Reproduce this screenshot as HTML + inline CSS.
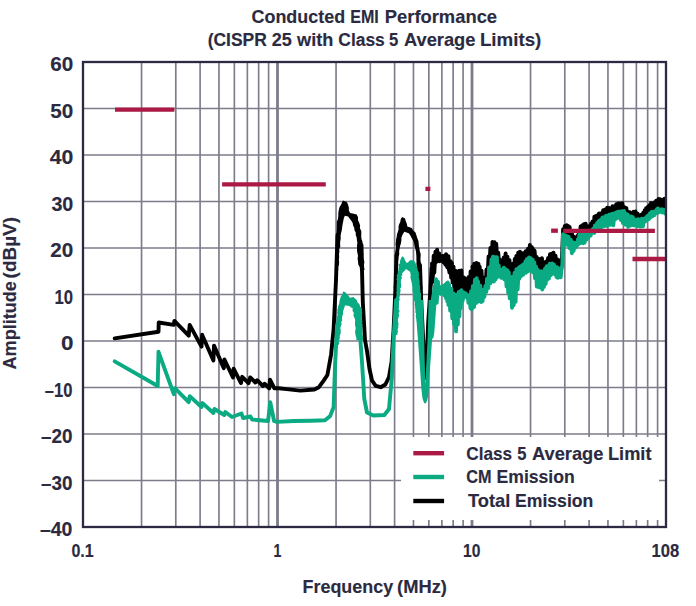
<!DOCTYPE html><html><head><meta charset="utf-8"><style>html,body{margin:0;padding:0;background:#fff;}svg{display:block;}text{font-family:"Liberation Sans",sans-serif;font-weight:bold;fill:#2b2a40;stroke:#2b2a40;stroke-width:0.15px;}</style></head><body>
<svg width="696" height="606" viewBox="0 0 696 606">
<rect x="0" y="0" width="696" height="606" fill="#fff"/>
<line x1="83" y1="108.50" x2="666" y2="108.50" stroke="#7c7c8a" stroke-width="1.65"/>
<line x1="83" y1="155.00" x2="666" y2="155.00" stroke="#7c7c8a" stroke-width="1.65"/>
<line x1="83" y1="201.50" x2="666" y2="201.50" stroke="#7c7c8a" stroke-width="1.65"/>
<line x1="83" y1="248.00" x2="666" y2="248.00" stroke="#7c7c8a" stroke-width="1.65"/>
<line x1="83" y1="294.50" x2="666" y2="294.50" stroke="#7c7c8a" stroke-width="1.65"/>
<line x1="83" y1="341.00" x2="666" y2="341.00" stroke="#7c7c8a" stroke-width="1.65"/>
<line x1="83" y1="387.50" x2="666" y2="387.50" stroke="#7c7c8a" stroke-width="1.65"/>
<line x1="83" y1="434.00" x2="666" y2="434.00" stroke="#7c7c8a" stroke-width="1.65"/>
<line x1="83" y1="480.50" x2="666" y2="480.50" stroke="#7c7c8a" stroke-width="1.65"/>
<line x1="141.55" y1="62" x2="141.55" y2="527" stroke="#7c7c8a" stroke-width="1.65"/>
<line x1="175.80" y1="62" x2="175.80" y2="527" stroke="#7c7c8a" stroke-width="1.65"/>
<line x1="200.10" y1="62" x2="200.10" y2="527" stroke="#7c7c8a" stroke-width="1.65"/>
<line x1="218.95" y1="62" x2="218.95" y2="527" stroke="#7c7c8a" stroke-width="1.65"/>
<line x1="234.35" y1="62" x2="234.35" y2="527" stroke="#7c7c8a" stroke-width="1.65"/>
<line x1="247.37" y1="62" x2="247.37" y2="527" stroke="#7c7c8a" stroke-width="1.65"/>
<line x1="258.65" y1="62" x2="258.65" y2="527" stroke="#7c7c8a" stroke-width="1.65"/>
<line x1="268.60" y1="62" x2="268.60" y2="527" stroke="#7c7c8a" stroke-width="1.65"/>
<line x1="336.05" y1="62" x2="336.05" y2="527" stroke="#7c7c8a" stroke-width="1.65"/>
<line x1="370.30" y1="62" x2="370.30" y2="527" stroke="#7c7c8a" stroke-width="1.65"/>
<line x1="394.60" y1="62" x2="394.60" y2="527" stroke="#7c7c8a" stroke-width="1.65"/>
<line x1="413.45" y1="62" x2="413.45" y2="527" stroke="#7c7c8a" stroke-width="1.65"/>
<line x1="428.85" y1="62" x2="428.85" y2="527" stroke="#7c7c8a" stroke-width="1.65"/>
<line x1="441.87" y1="62" x2="441.87" y2="527" stroke="#7c7c8a" stroke-width="1.65"/>
<line x1="453.15" y1="62" x2="453.15" y2="527" stroke="#7c7c8a" stroke-width="1.65"/>
<line x1="463.10" y1="62" x2="463.10" y2="527" stroke="#7c7c8a" stroke-width="1.65"/>
<line x1="530.55" y1="62" x2="530.55" y2="527" stroke="#7c7c8a" stroke-width="1.65"/>
<line x1="564.80" y1="62" x2="564.80" y2="527" stroke="#7c7c8a" stroke-width="1.65"/>
<line x1="589.10" y1="62" x2="589.10" y2="527" stroke="#7c7c8a" stroke-width="1.65"/>
<line x1="607.95" y1="62" x2="607.95" y2="527" stroke="#7c7c8a" stroke-width="1.65"/>
<line x1="623.35" y1="62" x2="623.35" y2="527" stroke="#7c7c8a" stroke-width="1.65"/>
<line x1="636.37" y1="62" x2="636.37" y2="527" stroke="#7c7c8a" stroke-width="1.65"/>
<line x1="647.65" y1="62" x2="647.65" y2="527" stroke="#7c7c8a" stroke-width="1.65"/>
<line x1="657.60" y1="62" x2="657.60" y2="527" stroke="#7c7c8a" stroke-width="1.65"/>
<line x1="277.50" y1="62" x2="277.50" y2="527" stroke="#7c7c8a" stroke-width="2.8"/>
<line x1="472.00" y1="62" x2="472.00" y2="527" stroke="#7c7c8a" stroke-width="2.8"/>
<defs><clipPath id="pc"><rect x="0" y="0" width="666.5" height="606"/></clipPath></defs><g clip-path="url(#pc)">
<rect x="401" y="437" width="258" height="83" fill="#fff"/>
<polyline points="114.7,338.4 158.5,331.7 158.7,322.5 173.8,324.9 174.4,320.9 188.7,335.7 189.7,324.9 201.5,346.6 202.1,334.8 213.4,360.5 214.0,345.6 223.8,368.2 224.4,359.5 233.0,377.4 233.6,368.7 241.0,383.1 242.2,376.8 248.5,383.1 250.2,377.4 255.4,382.5 257.1,380.2 262.9,386.0 264.6,383.7 269.2,388.3 270.0,379.7 274.4,388.3 279.0,388.3 286.6,389.1 300.4,390.6 314.3,389.5 318.9,387.2 323.5,380.8 327.4,375.0 331.1,354.3 333.6,329.5 336.0,280.0 337.5,235.0" fill="none" stroke="#000000" stroke-width="3.9" stroke-linejoin="round" stroke-linecap="round"/>
<polyline points="361.5,245.0 362.0,270.0 362.8,302.0 365.0,340.0 367.0,351.0 369.5,369.0 372.0,380.5 375.7,385.8 380.7,387.2 385.4,384.5 389.0,377.0 391.6,361.7 393.6,329.5 395.3,292.4 396.5,255.0" fill="none" stroke="#000000" stroke-width="3.9" stroke-linejoin="round" stroke-linecap="round"/>
<polyline points="420.0,265.0 421.2,300.0 423.9,354.3 425.3,377.9 426.3,371.4 428.2,322.1 430.4,290.0 431.6,268.0" fill="none" stroke="#000000" stroke-width="3.9" stroke-linejoin="round" stroke-linecap="round"/>
<polygon points="335.6,270.0 335.6,267.5 336.2,264.9 335.8,262.4 335.6,259.8 336.1,257.4 335.6,254.6 335.7,252.4 336.3,249.4 336.7,247.4 336.4,244.6 336.0,241.8 336.4,239.3 336.2,236.8 336.1,234.4 336.6,232.0 336.7,229.4 336.8,226.9 336.8,224.1 336.9,221.7 337.9,219.0 338.3,216.0 338.3,212.9 338.8,209.9 339.5,207.2 341.4,203.9 342.8,200.6 346.8,201.9 348.0,204.6 348.9,207.7 348.8,210.2 350.1,213.1 353.8,213.7 356.7,214.4 358.0,217.2 358.0,220.2 359.3,223.0 360.1,225.5 359.9,228.2 361.3,231.0 361.3,233.5 361.2,236.2 361.5,238.9 362.5,241.8 362.5,244.8 362.4,247.8 362.6,250.5 363.3,253.3 363.1,256.0 363.4,258.8 364.4,261.8 364.0,264.6 364.1,267.2 364.6,270.0 360.0,270.0 359.7,267.1 358.3,264.4 358.0,261.2 357.6,258.4 358.0,255.8 357.4,253.1 357.0,250.7 357.0,248.1 357.0,245.4 357.4,242.8 356.9,240.3 356.7,237.5 355.7,234.9 355.8,232.8 354.4,230.1 354.3,228.1 353.1,225.6 352.7,223.0 351.5,220.9 349.6,218.4 348.1,216.4 344.8,215.7 343.7,218.7 343.2,221.4 342.6,224.3 342.2,226.9 341.9,229.7 341.1,232.9 340.6,235.5 340.7,238.8 340.2,241.5 340.1,244.0 340.3,246.5 339.2,249.2 339.4,251.6 339.0,254.4 339.2,256.9 338.8,259.8 339.2,262.3 338.8,264.9 338.0,267.2 338.2,270.0" fill="#000000"/>
<polygon points="393.9,295.0 394.0,292.5 394.3,289.7 393.7,287.3 394.1,285.0 394.6,282.4 394.6,279.9 394.2,277.2 394.4,274.9 394.4,272.3 394.5,269.7 394.8,267.1 395.4,264.3 394.8,262.2 395.3,259.3 395.9,257.2 395.1,254.4 395.2,251.8 395.8,249.2 396.0,246.6 395.6,244.4 395.9,241.7 396.1,239.2 396.7,236.7 397.0,234.0 397.8,232.0 398.6,229.3 398.5,226.7 399.1,224.3 400.3,221.9 400.7,219.2 402.1,216.9 405.1,218.4 405.7,221.1 406.9,223.9 407.3,226.6 411.8,228.0 413.2,230.4 415.5,232.5 416.4,235.2 417.2,237.9 418.4,240.7 418.7,243.5 418.9,246.1 419.5,248.8 419.8,251.3 420.7,254.1 420.6,256.7 420.4,259.2 420.7,261.7 421.1,264.6 421.1,267.1 420.9,269.6 421.2,271.8 421.7,274.8 421.1,277.0 421.9,279.6 421.5,282.0 421.4,284.8 422.4,287.6 422.0,289.6 421.9,292.6 422.2,295.0 418.4,295.0 418.6,292.5 417.9,289.9 418.0,287.4 417.6,285.0 418.1,282.0 417.4,279.8 417.2,277.3 417.3,274.6 417.4,271.9 416.8,269.3 417.1,267.0 416.4,264.5 416.5,261.6 416.4,259.5 416.4,256.7 416.2,254.1 416.0,251.7 415.3,248.7 414.5,246.3 414.1,243.4 413.2,240.7 411.6,238.1 410.5,235.7 408.8,233.2 404.3,231.8 402.4,234.9 401.4,237.7 401.4,240.6 400.9,243.4 400.1,246.1 399.6,248.5 399.1,251.4 399.3,254.3 398.4,257.0 398.3,259.6 397.8,262.1 398.3,264.5 397.7,267.1 397.7,269.8 397.4,272.0 397.5,274.8 397.9,277.3 397.9,279.7 396.9,282.3 397.2,284.7 397.4,287.3 396.8,289.8 397.4,292.2 396.9,295.0" fill="#000000"/>
<polygon points="429.5,292.5 431.6,267.3 434.0,255.7 437.3,249.9 440.6,259.0 447.2,253.2 452.2,265.6 455.0,268.8 457.5,273.7 460.8,270.4 463.3,277.0 467.4,282.0 472.3,267.1 477.3,262.2 481.4,272.1 484.7,282.0 488.0,260.5 491.3,243.2 496.3,244.0 499.6,258.9 502.5,262.2 505.8,253.9 509.1,260.5 511.6,267.1 515.7,257.2 519.8,252.3 524.8,253.9 529.7,246.5 533.8,250.6 537.1,258.9 542.5,259.4 545.0,265.1 549.1,255.2 554.0,253.6 556.5,258.5 561.0,265.1 562.2,236.5 563.4,227.5 564.7,226.5 568.8,225.6 571.3,230.5 574.6,240.4 577.9,235.5 581.2,225.6 584.5,223.9 587.8,227.2 591.1,223.9 594.4,218.2 600.6,213.7 604.1,209.6 608.7,209.6 613.3,207.3 618.0,203.9 622.6,205.0 626.6,210.2 630.7,213.7 635.3,211.4 638.7,216.0 643.4,213.1 648.0,206.8 653.8,202.7 659.5,199.8 666.0,200.0 666.0,211.5 659.5,211.1 654.9,212.9 650.3,215.2 644.5,219.8 641.0,222.1 635.9,221.5 631.8,219.2 627.2,216.3 622.6,212.9 616.8,214.0 612.2,216.9 606.4,217.5 600.6,222.1 592.7,231.2 589.5,233.7 586.2,239.4 582.9,234.5 579.6,237.0 576.3,246.9 573.0,245.2 569.7,238.6 566.4,237.0 562.6,237.5 561.6,273.2 556.5,269.9 553.2,265.0 549.1,265.8 545.0,271.6 539.6,275.2 535.5,267.0 533.0,262.0 528.9,258.7 524.8,264.5 520.6,267.8 516.5,271.9 511.6,281.8 508.3,274.4 504.1,270.3 500.4,273.6 497.1,259.5 493.0,257.9 489.7,267.0 483.9,295.0 479.8,286.8 475.6,278.5 469.9,298.3 464.9,295.0 460.8,293.4 454.7,292.8 451.4,279.6 446.4,268.1 441.5,261.5 436.5,263.1 431.6,289.5" fill="#000000"/>
<polyline points="432.0,263.5 432.6,282.0 433.7,255.8 434.3,272.7 435.4,251.8 436.4,262.0 437.1,249.7 437.9,260.6 439.2,253.5 439.7,261.3 440.6,257.5 441.4,259.4 442.6,255.9 443.3,262.3 444.2,256.2 445.4,264.6 446.0,254.3 447.3,267.3 448.4,256.2 449.4,272.5 450.5,261.2 451.2,277.6 451.9,263.0 452.6,282.4 453.5,266.7 454.6,291.7 455.9,270.9 457.0,290.8 457.6,273.2 458.6,291.8 459.2,270.6 460.4,291.8 461.4,270.4 462.2,293.1 463.3,277.3 463.9,292.7 465.0,278.3 466.2,294.2 466.8,279.6 468.0,294.4 468.7,276.9 469.8,297.2 470.6,271.4 471.8,289.6 472.6,266.4 473.6,282.7 474.2,263.7 475.2,278.4 476.5,262.9 477.2,280.5 478.5,263.9 479.0,283.1 479.7,266.7 480.3,285.2 481.5,270.6 482.5,289.7 483.1,277.4 483.9,292.5 484.8,281.3 485.7,285.4 486.5,269.5 487.6,275.4 488.6,256.4 489.3,266.5 490.4,248.0 491.6,260.4 492.5,241.9 493.7,255.5 494.5,242.2 495.4,256.6 496.2,243.8 497.1,257.2 498.2,252.6 499.4,266.3 500.4,260.0 501.1,270.5 502.2,260.8 503.0,270.2 503.8,257.4 504.5,268.6 505.6,253.4 506.7,270.0 507.4,256.7 508.3,272.6 509.5,260.3 510.2,275.7 511.1,264.5 511.9,278.2 512.5,264.0 513.6,275.6 514.8,259.0 515.6,272.6 516.3,256.0 517.4,269.2 518.2,252.6 519.2,266.7 520.0,251.8 521.2,265.9 522.1,253.2 522.9,264.0 523.9,253.0 524.6,262.7 525.7,251.2 526.8,258.9 528.0,248.8 528.8,258.2 529.9,245.0 530.6,258.3 531.9,247.1 532.4,259.3 533.0,248.9 533.9,262.0 534.6,250.8 535.7,265.5 536.6,256.9 537.6,270.4 538.8,258.9 539.5,272.5 540.2,259.3 540.7,272.8 541.9,258.2 542.7,271.1 544.0,262.5 545.1,268.6 546.2,261.4 547.0,267.7 548.1,257.9 549.1,264.9 550.0,254.3 551.1,263.5 551.7,253.8 552.9,264.1 553.5,252.8 554.2,264.4 555.5,255.6 556.2,267.2 557.1,259.1 557.9,268.3 558.6,260.3 559.8,269.5 560.9,263.3 562.0,257.8 563.1,229.1 563.7,234.6 564.8,225.9 565.7,235.0 566.7,225.3 567.3,235.9 568.1,225.9 569.0,237.1 569.6,227.0 570.6,239.4 571.8,231.3 572.7,243.5 573.5,236.4 574.6,244.4 575.5,239.2 576.8,243.2 577.3,235.9 578.0,241.1 578.9,232.0 580.0,235.7 580.6,226.5 581.3,233.8 582.0,225.4 582.7,232.6 583.9,224.2 584.7,235.4 585.7,223.7 586.4,238.1 587.0,226.2 588.1,234.5 588.9,226.2 590.0,230.5 591.2,223.4 591.9,229.2 592.5,221.4 593.7,227.9 594.4,216.6 595.2,226.1 595.8,216.0 596.9,223.6 597.7,215.1 598.4,221.8 599.0,213.4 600.2,221.6 601.3,213.1 602.0,218.6 603.2,210.2 604.4,216.9 605.3,209.4 606.4,214.9 607.2,207.8 608.1,216.5 609.1,207.9 610.1,215.7 610.7,208.8 611.7,215.1 612.5,206.2 613.4,214.0 614.1,206.4 615.1,214.3 616.3,204.3 617.4,211.8 618.3,203.4 619.5,210.6 620.4,203.4 621.5,212.3 622.4,203.3 623.3,211.9 624.4,207.2 625.2,213.2 626.3,208.1 627.1,214.8 628.3,212.0 629.0,216.7 629.8,212.1 630.4,216.8 631.3,213.1 632.5,216.9 633.5,211.8 634.2,217.7 635.5,211.4 636.4,218.8 637.6,213.6 638.5,220.1 639.4,215.9 640.2,220.6 641.3,214.7 642.0,219.3 643.2,212.8 644.0,219.2 644.7,210.1 645.3,217.8 646.1,208.2 647.0,215.5 648.0,206.7 648.9,215.4 649.4,205.2 650.1,212.7 651.0,203.0 651.6,211.9 652.4,203.7 653.2,211.1 654.3,202.5 655.5,209.8 656.2,200.6 657.4,210.2 658.6,198.9 659.5,209.7 660.2,199.2 661.3,210.1 662.4,199.9 663.6,209.8 664.4,198.6 664.9,210.6 665.9,199.5" fill="none" stroke="#000000" stroke-width="3.9" stroke-linejoin="round" stroke-linecap="round"/>
<polyline points="114.7,361.4 157.7,386.0 158.5,351.8 173.8,394.2 174.8,388.2 188.7,402.1 189.7,396.1 201.5,407.0 202.5,403.1 213.4,413.0 214.4,409.0 224.3,415.0 225.3,412.0 232.0,417.0 241.5,413.5 243.0,418.0 250.5,416.5 252.0,419.5 259.5,420.2 268.1,421.0 270.2,402.1 274.1,421.0 276.7,421.9 294.0,421.0 311.2,420.7 325.0,420.2 330.2,415.9 333.6,407.2 335.1,364.7 337.1,325.0" fill="none" stroke="#0aaa82" stroke-width="3.9" stroke-linejoin="round" stroke-linecap="round"/>
<polygon points="334.8,345.0 334.6,343.6 335.2,342.1 334.8,340.2 334.8,338.7 335.6,337.1 335.5,335.6 335.3,334.2 336.1,332.8 335.2,331.0 335.5,329.8 336.4,328.3 336.5,326.7 336.8,325.2 336.0,323.7 336.4,322.1 336.6,320.3 336.5,318.8 336.5,317.1 337.3,316.0 337.6,314.4 337.1,312.7 337.5,311.4 337.3,309.8 338.0,308.0 338.1,306.8 338.4,305.2 339.2,303.7 339.4,302.3 339.5,300.7 340.1,299.0 340.5,297.5 340.9,296.2 342.4,294.4 342.7,293.2 342.9,291.4 345.2,291.9 345.8,293.1 347.9,295.0 348.8,296.0 349.8,297.7 351.4,297.6 353.3,297.1 355.6,298.9 357.1,300.5 357.2,302.0 358.4,303.3 359.6,304.6 360.0,306.4 361.3,307.9 362.0,309.3 361.7,310.9 362.2,312.4 362.0,314.0 362.0,315.3 361.9,317.1 361.9,318.3 361.9,320.1 362.5,321.6 361.9,323.1 362.4,324.4 362.0,326.5 362.2,327.6 362.4,329.3 362.3,330.8 362.7,332.5 362.3,333.8 362.9,335.7 363.0,336.9 363.2,338.3 363.1,340.0 360.8,340.0 360.1,340.1 357.6,340.1 356.2,340.0 356.5,338.4 356.1,336.9 355.6,335.4 355.4,333.9 355.1,332.4 355.1,331.2 355.6,329.2 355.7,327.8 355.3,326.5 355.0,324.9 355.0,323.3 355.0,322.0 355.2,320.2 354.9,318.7 354.0,317.3 353.4,315.6 353.6,314.2 353.9,313.0 352.7,311.2 352.5,309.8 352.7,308.1 351.0,307.6 349.7,306.3 348.1,305.8 345.8,305.6 344.6,305.8 344.7,307.1 343.9,308.7 343.4,310.4 342.9,311.9 343.2,313.5 342.7,315.0 342.3,316.2 342.0,317.8 342.1,319.5 342.2,320.6 341.1,322.4 341.7,323.9 340.9,325.7 340.7,326.7 340.2,328.3 340.8,329.8 340.6,331.8 340.8,333.3 340.0,334.7 339.7,336.5 339.9,338.3 339.0,340.0 338.5,341.5 339.3,343.3 338.5,345.0" fill="#0aaa82"/>
<polyline points="359.6,330.0 362.0,362.0 364.3,399.0 367.0,412.5 373.3,415.5 384.4,415.0 389.0,409.0 391.8,378.0 393.9,333.0 396.1,300.0" fill="none" stroke="#0aaa82" stroke-width="3.9" stroke-linejoin="round" stroke-linecap="round"/>
<polygon points="393.5,335.0 393.1,333.6 393.9,332.1 393.6,330.2 394.3,328.9 393.9,327.3 394.1,325.8 393.9,323.9 394.9,322.4 394.3,321.2 394.8,319.2 394.9,317.9 394.5,316.4 394.6,314.6 394.7,313.0 395.8,311.6 396.0,310.0 395.6,308.7 395.9,306.7 395.9,305.5 395.5,303.6 396.4,302.3 396.1,300.7 395.8,299.2 395.9,297.8 396.3,295.9 396.7,294.4 396.1,292.8 396.7,291.4 396.5,289.8 396.5,288.7 396.6,287.0 396.6,285.5 396.8,283.8 396.7,282.3 397.2,281.2 396.3,279.2 397.1,278.0 396.9,276.4 396.6,275.0 398.0,273.4 397.6,272.0 398.6,270.3 398.2,268.8 398.9,267.4 398.7,265.9 398.7,264.4 400.2,263.0 399.9,261.5 400.4,260.0 401.2,257.9 402.1,256.3 404.3,257.8 404.5,259.3 405.5,261.1 406.6,263.0 408.5,261.9 409.2,261.1 411.0,260.0 413.4,260.6 414.7,261.5 415.6,262.9 416.0,264.5 417.0,266.1 417.1,267.6 417.7,268.9 417.8,270.4 418.8,272.1 418.8,273.5 419.2,275.2 418.7,277.0 419.2,278.2 419.3,279.6 419.8,281.4 419.6,283.1 419.6,284.4 420.1,286.1 420.1,287.8 420.1,289.1 420.4,290.5 420.3,292.1 421.0,293.6 421.1,295.2 421.2,297.0 420.9,298.7 421.4,300.1 420.8,301.5 421.2,303.1 422.1,304.9 421.2,306.4 421.8,307.8 422.4,309.3 421.5,311.0 421.9,312.6 422.5,314.0 422.7,315.1 422.6,316.7 421.9,318.3 422.5,319.6 422.4,321.6 422.5,322.9 422.3,324.7 422.4,326.0 422.9,327.1 423.4,328.8 423.5,330.7 423.4,332.2 422.9,333.5 423.1,335.0 421.4,335.3 419.5,334.8 418.5,335.0 418.9,333.7 418.4,332.3 418.0,330.7 417.7,329.2 417.1,327.4 417.5,326.1 417.1,324.5 417.6,322.9 416.5,321.1 417.1,319.9 416.3,318.4 415.8,316.7 415.8,315.2 416.4,313.7 415.3,312.6 415.6,310.5 415.6,309.4 415.2,307.8 415.2,306.4 414.7,304.6 414.9,303.3 414.6,301.5 414.0,300.3 413.8,298.7 413.7,297.3 413.4,295.6 413.7,294.0 412.7,292.7 412.5,291.3 412.4,289.8 412.5,288.0 412.3,286.2 412.1,284.9 411.8,283.3 411.5,281.8 411.0,280.1 410.6,278.3 410.4,276.5 410.8,275.4 410.3,273.5 410.3,271.9 408.8,271.0 407.1,269.8 405.8,268.9 405.0,270.4 403.2,272.1 402.1,273.4 402.5,274.9 401.2,276.4 402.1,277.8 401.1,279.7 400.9,281.3 400.8,282.6 401.1,284.0 401.2,285.7 401.0,287.4 400.0,289.0 400.8,290.2 400.3,291.7 400.1,293.6 399.9,295.0 399.7,296.6 399.3,298.3 399.8,299.8 399.0,301.3 398.9,302.7 399.0,304.5 398.8,305.8 399.1,307.2 398.5,308.9 399.5,310.3 399.4,311.8 398.5,313.4 399.3,315.2 398.8,316.3 398.5,317.8 397.9,319.5 398.0,320.9 398.3,322.9 398.7,324.5 398.0,325.6 398.5,327.3 397.7,329.0 397.8,330.7 397.9,332.2 397.2,333.7 397.5,335.0" fill="#0aaa82"/>
<polygon points="415.0,300.0 417.7,336.4 420.3,372.7 421.3,388.0 422.5,398.5 424.0,402.8 425.0,403.6 426.2,402.8 427.7,398.5 428.9,388.0 429.7,372.7 432.3,336.4 435.0,309.0 436.8,300.0 428.6,300.0 427.7,336.4 425.9,372.7 425.5,385.0 425.0,372.7 424.1,336.4 423.2,300.0" fill="#0aaa82"/>
<polygon points="428.8,342.5 430.3,303.7 433.0,285.2 435.6,280.6 438.3,282.6 439.6,287.8 443.5,287.8 446.2,282.6 450.5,287.1 454.7,297.0 460.8,291.9 464.9,293.5 469.9,296.8 475.6,277.0 479.8,285.3 483.9,293.5 489.7,265.5 493.0,256.4 497.1,258.0 500.4,272.1 504.1,268.8 508.3,272.9 511.6,280.3 516.5,270.4 520.6,266.3 524.8,263.0 528.9,257.2 533.0,260.5 535.5,265.5 539.6,273.7 545.0,270.1 549.1,264.3 553.2,263.5 556.5,268.4 561.6,271.7 562.6,236.0 566.4,235.5 569.7,237.1 573.0,243.7 576.3,245.4 579.6,235.5 582.9,233.0 586.2,237.9 589.5,232.2 592.7,229.7 600.6,220.6 606.4,216.0 612.2,215.4 616.8,212.5 622.6,211.4 627.2,214.8 631.8,217.7 635.9,220.0 641.0,220.6 644.5,218.3 650.3,213.7 654.9,211.4 659.5,209.6 666.0,210.0 666.0,212.2 660.7,211.0 656.1,213.3 651.4,216.8 646.8,219.1 642.2,226.0 637.6,226.0 633.0,223.7 629.5,225.4 624.9,224.9 621.4,219.1 618.0,217.4 614.5,219.1 613.3,223.7 606.4,224.9 600.6,226.0 596.0,230.5 591.1,233.8 587.0,238.7 583.7,242.0 579.6,243.7 575.4,246.9 572.1,253.5 568.8,243.7 564.7,245.3 563.2,246.0 561.8,276.6 556.5,276.6 553.2,272.5 549.9,276.6 546.6,279.9 543.3,288.2 540.4,286.9 536.3,285.2 533.8,272.0 529.7,268.7 524.8,272.0 519.0,278.6 516.5,298.4 512.4,307.5 508.3,293.5 505.0,278.6 500.0,275.3 495.4,278.6 491.3,281.9 486.4,291.8 482.2,300.1 476.5,301.7 471.5,310.0 467.4,298.4 464.1,293.5 462.0,302.5 459.9,312.7 456.3,331.7 453.6,321.8 448.1,303.6 443.5,292.1 438.3,292.1 436.3,305.3 434.3,332.5 433.5,337.5" fill="#0aaa82"/>
<polyline points="436.0,279.2 436.7,302.9 437.9,281.6 438.9,291.9 439.8,287.9 440.8,293.8 441.9,286.8 442.5,293.4 443.1,286.0 444.2,295.3 445.3,284.6 446.0,298.1 446.6,283.4 447.3,301.4 447.8,282.5 448.4,304.9 449.0,284.4 450.2,310.6 451.4,289.0 452.3,318.4 453.4,293.5 454.1,324.0 454.8,296.0 456.1,331.4 456.7,294.6 457.8,324.4 458.8,291.9 459.4,316.3 460.0,291.4 460.8,308.2 461.4,290.3 462.6,301.0 463.8,292.4 465.1,296.5 466.0,293.6 467.0,297.8 467.8,295.2 468.4,302.9 469.4,296.0 470.5,308.2 471.1,291.3 471.7,309.3 472.9,285.9 474.1,307.0 474.9,279.8 476.1,303.0 476.7,278.1 477.4,301.9 478.0,281.4 479.2,301.0 480.3,285.8 481.2,302.0 482.0,289.7 482.6,301.1 483.2,290.3 484.4,296.9 485.4,286.0 486.3,291.9 487.0,278.8 488.3,288.1 489.1,267.5 490.3,283.4 491.5,259.4 492.4,280.9 493.0,256.6 493.9,281.6 495.1,257.1 495.6,279.3 496.9,257.2 497.5,277.1 498.7,265.4 499.5,276.0 500.5,271.3 501.2,277.9 502.2,269.5 502.7,277.8 503.8,267.6 504.4,279.4 505.6,269.3 506.5,286.4 507.4,270.5 508.2,292.8 508.8,272.4 509.7,298.2 510.8,277.4 512.0,307.7 512.8,276.4 513.7,305.2 514.6,272.6 515.6,301.8 516.4,269.3 517.6,289.6 518.9,267.7 519.4,278.7 520.1,266.8 520.9,276.2 522.2,265.1 523.1,274.8 523.7,264.3 524.5,273.1 525.4,261.4 525.9,272.8 526.8,259.2 528.0,271.4 529.0,257.5 529.8,268.6 530.6,258.1 531.7,271.6 532.7,259.8 533.7,272.8 534.3,262.5 535.0,278.2 536.0,266.6 536.8,286.5 537.7,269.7 538.9,287.4 539.5,273.1 540.3,287.4 541.3,271.1 542.3,289.5 542.9,271.6 544.0,287.0 545.1,268.4 545.7,284.0 546.7,266.2 547.3,279.7 548.3,265.9 548.9,278.6 549.8,263.6 551.0,275.0 552.2,263.5 552.9,272.7 554.0,264.7 554.8,274.3 555.7,266.9 556.5,277.1 557.1,267.3 557.8,277.9 558.4,268.3 559.3,276.6 560.0,270.5 560.7,277.4 561.3,270.9 562.4,264.7 563.0,234.2 563.8,246.2 564.4,234.9 565.3,244.8 566.3,235.9 567.4,244.8 568.5,236.8 569.7,248.2 570.8,239.7 571.9,253.2 572.5,242.1 573.6,250.7 574.4,242.8 575.0,247.9 576.1,243.6 576.8,246.3 578.0,239.0 578.6,244.1 579.4,234.4 580.4,243.1 581.1,232.7 581.8,242.5 582.4,231.9 583.2,243.2 584.0,233.2 584.5,242.7 585.7,237.4 586.7,239.5 587.5,234.3 588.4,237.6 589.6,230.8 590.6,235.6 591.6,230.1 592.2,233.0 593.1,228.8 594.3,233.0 595.0,225.5 596.1,229.9 597.3,222.7 598.3,229.7 598.9,220.9 599.9,227.9 600.4,220.0 601.6,227.2 602.4,217.4 603.4,226.3 604.2,217.3 605.2,225.8 606.1,215.7 607.2,226.1 607.8,215.8 608.5,225.1 609.2,214.6 610.0,224.9 610.6,214.4 611.5,224.5 612.4,213.6 613.3,225.2 614.4,213.4 615.5,219.0 616.2,212.4 616.9,218.1 618.0,211.6 618.7,217.8 619.7,211.6 620.9,220.1 621.7,211.3 622.9,223.1 624.0,211.0 624.8,224.6 625.9,213.6 626.8,225.1 627.7,214.8 628.2,226.9 629.3,216.3 630.5,225.6 631.3,216.4 632.2,225.1 632.9,217.1 633.8,225.4 634.4,219.4 635.4,225.6 636.3,220.1 637.1,226.1 637.8,219.1 638.3,226.1 639.3,219.4 640.5,226.6 641.7,218.8 642.9,226.4 644.1,218.6 645.0,221.7 646.2,217.3 647.0,220.3 648.0,215.4 649.2,218.9 649.9,213.2 650.8,217.2 651.8,211.8 652.5,216.4 653.5,211.7 654.3,215.2 655.3,211.3 655.9,213.4 656.8,209.3 657.5,212.9 658.1,208.4 658.9,212.4 659.9,209.9 661.1,211.7 661.9,209.3 662.7,212.4 664.0,209.8 665.2,213.4" fill="none" stroke="#0aaa82" stroke-width="3.9" stroke-linejoin="round" stroke-linecap="round"/>
</g>
<line x1="115.0" y1="109.6" x2="174.4" y2="109.6" stroke="#ab1a45" stroke-width="4.3"/>
<line x1="222.1" y1="184.4" x2="325.8" y2="184.4" stroke="#ab1a45" stroke-width="4.3"/>
<line x1="425.4" y1="188.9" x2="430.4" y2="188.9" stroke="#ab1a45" stroke-width="4.3"/>
<line x1="551.1" y1="230.7" x2="557.9" y2="230.7" stroke="#ab1a45" stroke-width="4.3"/>
<line x1="563.2" y1="230.9" x2="654.9" y2="230.9" stroke="#ab1a45" stroke-width="4.3"/>
<line x1="632.5" y1="259.0" x2="666.0" y2="259.0" stroke="#ab1a45" stroke-width="4.3"/>
<rect x="83" y="62" width="583" height="465" fill="none" stroke="#2c2943" stroke-width="2.3"/>
<line x1="413.3" y1="453.2" x2="444.1" y2="453.2" stroke="#ab1a45" stroke-width="4.4"/>
<line x1="413.3" y1="477.0" x2="444.1" y2="477.0" stroke="#0aaa82" stroke-width="4.4"/>
<line x1="413.3" y1="501.0" x2="444.1" y2="501.0" stroke="#000000" stroke-width="4.4"/>
<text x="489.14" y="459.80" font-size="18.00" transform="scale(0.9532,1)">Class</text>
<text x="562.17" y="459.80" font-size="18.00" transform="scale(0.9200,1)">5</text>
<text x="524.51" y="459.80" font-size="18.00" transform="scale(1.0143,1)">Average</text>
<text x="600.84" y="459.80" font-size="18.00" transform="scale(1.0119,1)">Limit</text>
<text x="515.90" y="483.40" font-size="18.00" transform="scale(0.9038,1)">CM</text>
<text x="508.35" y="483.40" font-size="18.00" transform="scale(0.9769,1)">Emission</text>
<text x="460.14" y="506.90" font-size="18.00" transform="scale(1.0171,1)">Total</text>
<text x="525.81" y="506.90" font-size="18.00" transform="scale(0.9795,1)">Emission</text>
<text x="256.71" y="23.20" font-size="18.30" transform="scale(0.9798,1)">Conducted</text>
<text x="399.15" y="23.20" font-size="18.30" transform="scale(0.8774,1)">EMI</text>
<text x="383.05" y="23.20" font-size="18.30" transform="scale(1.0045,1)">Performance</text>
<text x="217.64" y="45.80" font-size="18.30" transform="scale(0.9541,1)">(CISPR</text>
<text x="275.94" y="45.80" font-size="18.30" transform="scale(0.9850,1)">25</text>
<text x="299.60" y="45.80" font-size="18.30" transform="scale(0.9917,1)">with</text>
<text x="355.76" y="45.80" font-size="18.30" transform="scale(0.9511,1)">Class</text>
<text x="427.36" y="45.80" font-size="18.30" transform="scale(0.9100,1)">5</text>
<text x="404.57" y="45.80" font-size="18.30" transform="scale(0.9986,1)">Average</text>
<text x="467.78" y="45.80" font-size="18.30" transform="scale(1.0259,1)">Limits)</text>
<text x="48.66" y="71.40" font-size="20.00" transform="scale(1.0350,1)">60</text>
<text x="48.66" y="117.90" font-size="20.00" transform="scale(1.0350,1)">50</text>
<text x="46.90" y="164.40" font-size="20.00" transform="scale(1.0619,1)">40</text>
<text x="52.14" y="210.90" font-size="20.00" transform="scale(0.9857,1)">30</text>
<text x="48.66" y="257.40" font-size="20.00" transform="scale(1.0350,1)">20</text>
<text x="65.35" y="303.90" font-size="20.00" transform="scale(0.8350,1)">10</text>
<text x="54.25" y="350.40" font-size="20.00" transform="scale(1.1222,1)">0</text>
<text x="54.06" y="396.90" font-size="20.00" transform="scale(0.8281,1)">–10</text>
<text x="43.40" y="443.40" font-size="20.00" transform="scale(0.9437,1)">–20</text>
<text x="43.40" y="489.90" font-size="20.00" transform="scale(0.9437,1)">–30</text>
<text x="40.95" y="536.40" font-size="20.00" transform="scale(0.9750,1)">–40</text>
<text x="83.86" y="556.80" font-size="18.80" transform="scale(0.8520,1)">0.1</text>
<text x="364.70" y="556.80" font-size="18.80" transform="scale(0.7500,1)">1</text>
<text x="556.85" y="556.80" font-size="18.80" transform="scale(0.8316,1)">10</text>
<text x="737.68" y="556.80" font-size="18.80" transform="scale(0.8833,1)">108</text>
<text x="310.63" y="593.30" font-size="18.40" transform="scale(0.9739,1)">Frequency</text>
<text x="398.73" y="593.30" font-size="18.40" transform="scale(0.9959,1)">(MHz)</text>
<g transform="translate(16.0,0) rotate(-90)">
<text x="-388.06" y="0.00" font-size="19.00" transform="scale(0.9522,1)">Amplitude</text>
<text x="-279.33" y="0.00" font-size="19.00" transform="scale(0.9967,1)">(dBµV)</text>
</g>
</svg></body></html>
